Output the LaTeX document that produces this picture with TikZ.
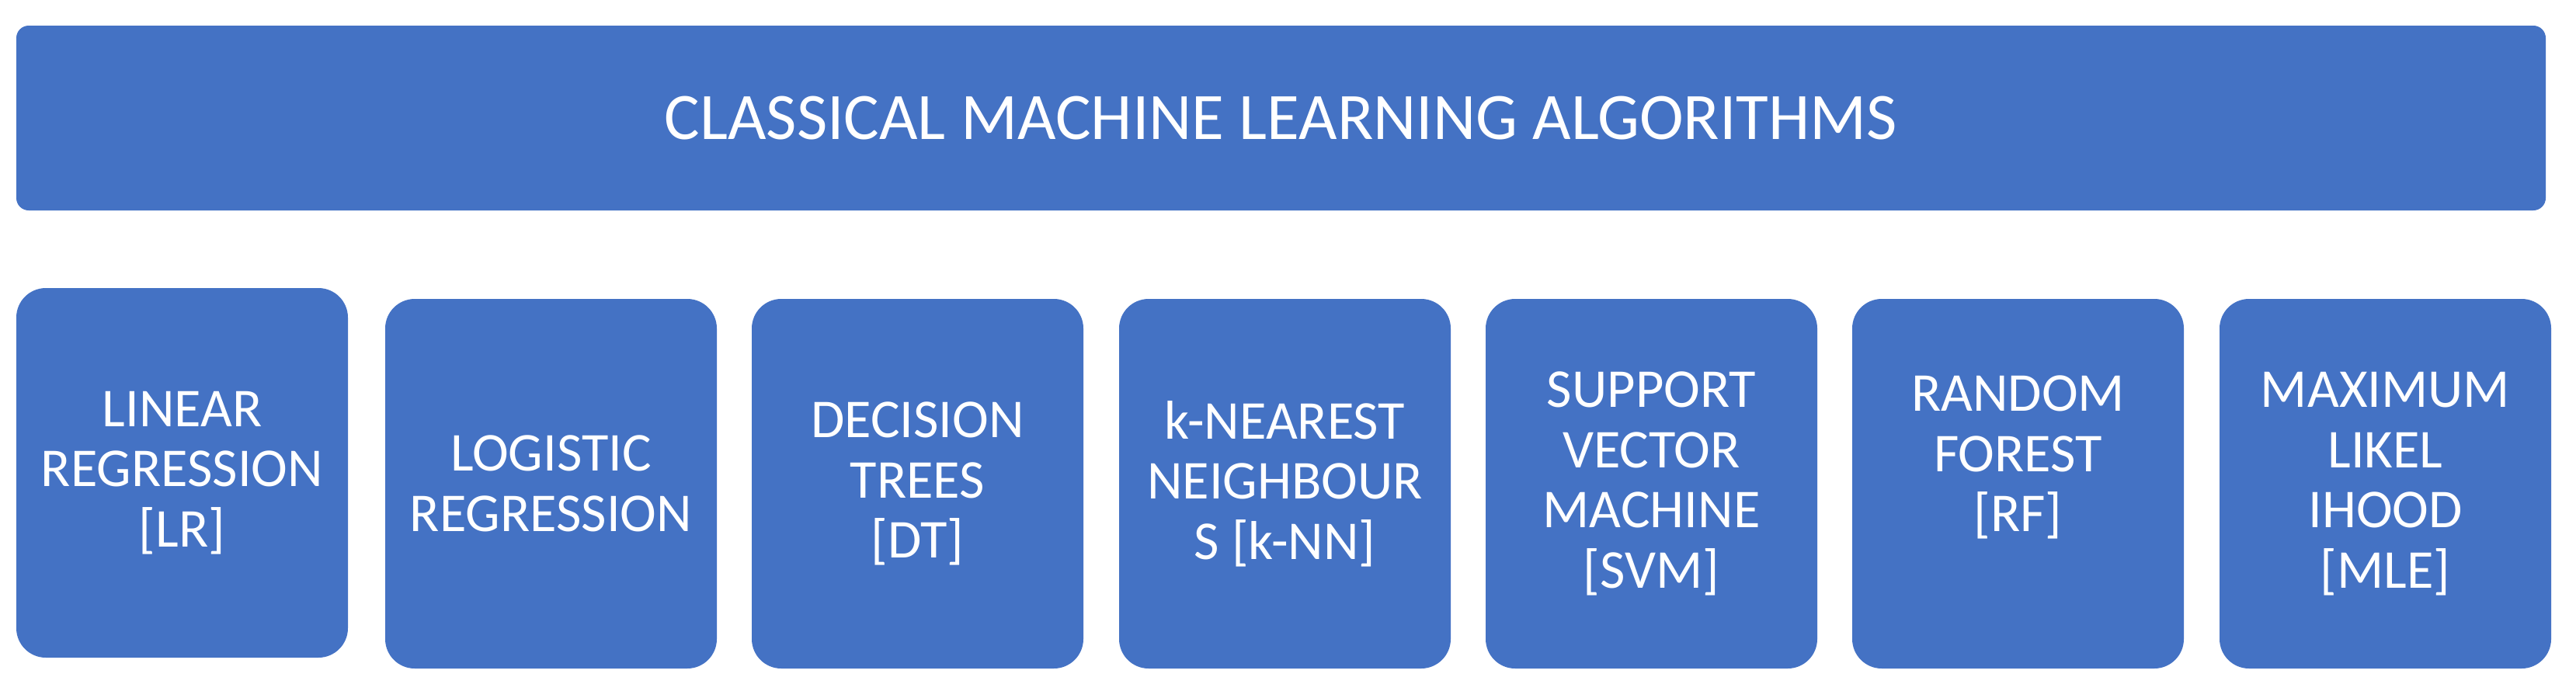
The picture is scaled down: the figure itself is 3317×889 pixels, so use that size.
\documentclass[tikz,border=0pt]{standalone}
\usepackage{fontspec}
\setmainfont{Carlito}
\definecolor{boxblue}{HTML}{4472C4}
\tikzset{
  banner/.style={fill=boxblue, rounded corners=16pt, minimum width=3257pt, minimum height=238pt,
    inner sep=0pt, outer sep=0pt, text=white, font=\fontsize{85.5}{96}\selectfont},
  algbox/.style={fill=boxblue, rounded corners=38pt, minimum width=427pt, minimum height=476pt,
    inner sep=0pt, outer sep=0pt, text=white, align=center, font=\fontsize{70.5}{77.5}\selectfont}
}
\begin{document}
\begin{tikzpicture}[x=1pt,y=-1pt]
\useasboundingbox (0,0) rectangle (3317,889);
\node[banner] (title) at (1649.5,152) {CLASSICAL MACHINE LEARNING ALGORITHMS};
\node[algbox] (lr)  at (234.5,609)  {LINEAR\\REGRESSION\\{}[LR]};
\node[algbox] (log) at (709.5,623)  {LOGISTIC\\REGRESSION};
\node[algbox] (dt)  at (1181.5,623) {DECISION\\TREES\\{}[DT]};
\node[algbox] (knn) at (1654.5,623) {k-NEAREST\\NEIGHBOUR\\S [k-NN]};
\node[algbox] (svm) at (2126.5,623) {SUPPORT\\VECTOR\\MACHINE\\{}[SVM]};
\node[algbox] (rf)  at (2598.5,623) {RANDOM\\FOREST\\{}[RF]\\\mbox{}};
\node[algbox] (mle) at (3071.5,623) {MAXIMUM\\LIKEL\\IHOOD\\{}[MLE]};
\end{tikzpicture}
\end{document}
